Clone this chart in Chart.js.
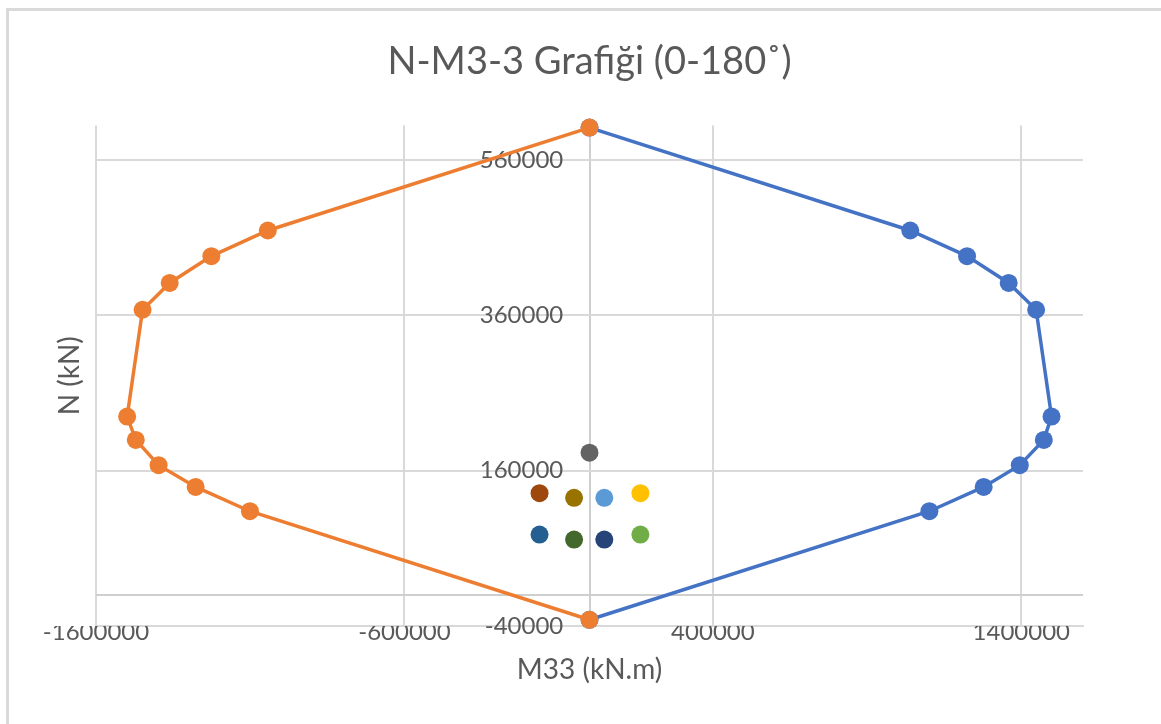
<!DOCTYPE html>
<html>
<head>
<meta charset="utf-8">
<title>N-M3-3 Grafiği</title>
<script src="https://cdn.jsdelivr.net/npm/chart.js@4.4.1/dist/chart.umd.min.js"></script>
<style>
  html, body { margin: 0; padding: 0; background: #ffffff; }
  #wrap { position: relative; width: 1161px; height: 724px; overflow: hidden; }
  #chart { position: absolute; left: 0; top: 0; }
  #frame { position: absolute; left: 6px; top: 8px; width: 1300px; height: 900px;
           border: 3px solid #dadada; box-sizing: border-box; pointer-events: none; }
</style>
</head>
<body>
<div id="wrap">
  <canvas id="chart" width="1161" height="724"></canvas>
  <div id="frame"></div>
</div>
<script>
// Texts
const titleText = 'N-M3-3 Grafiği (0-180˚)';
const xAxisTitle = 'M33 (kN.m)';
const yAxisTitle = 'N (kN)';

// Axis ticks (0 gets an unlabelled line: the crossing axis)
const xTickValues = [-1600000, -600000, 0, 400000, 1400000];
const yTickValues = [-40000, 0, 160000, 360000, 560000];

// Interaction curve, positive moment side (kN.m / kN)
const momentPos = [0, 1040000, 1224000, 1359000, 1448000, 1498000, 1473000, 1395000, 1278000, 1102000, 0];
const axialPos  = [601500, 469000, 436000, 401500, 367000, 229500, 199500, 167000, 139000, 107700, -32000];

// Interaction curve, negative moment side
const momentNeg = [0, -1043000, -1226000, -1361000, -1449000, -1499000, -1471000, -1397000, -1277000, -1101000, 0];
const axialNeg  = [601500, 469000, 436000, 401500, 367000, 229500, 199500, 167000, 139000, 107700, -32000];

// Load combinations
const comboMoment = [0, -162000, -50000, 48000, 165000, -162000, -50000, 48000, 165000];
const comboAxial  = [183000, 131000, 125000, 125000, 131000, 77700, 71200, 71200, 77700];
const comboColors = ['#636363', '#9E480E', '#997300', '#5B9BD5', '#FFC000',
                     '#255E91', '#43682B', '#264478', '#70AD47'];

const toPoints = (xs, ys) => xs.map((x, i) => ({ x: x, y: ys[i] }));

const textColor = '#595959';
const gridColor = '#d9d9d9';
const fontFamily = 'Lato, "Open Sans", sans-serif';

Chart.defaults.font.family = fontFamily;
Chart.defaults.color = textColor;

new Chart(document.getElementById('chart'), {
  type: 'scatter',
  data: {
    datasets: [
      {
        label: 'Kombinasyonlar',
        data: toPoints(comboMoment, comboAxial),
        pointRadius: 9,
        pointBorderWidth: 0,
        pointBackgroundColor: comboColors,
        showLine: false,
        clip: false
      },
      {
        label: 'M33 (-)',
        data: toPoints(momentNeg, axialNeg),
        showLine: true,
        borderColor: '#ED7D31',
        backgroundColor: '#ED7D31',
        borderWidth: 3.5,
        pointRadius: 9,
        pointBorderWidth: 0,
        pointBackgroundColor: '#ED7D31',
        clip: false
      },
      {
        label: 'M33 (+)',
        data: toPoints(momentPos, axialPos),
        showLine: true,
        borderColor: '#4472C4',
        backgroundColor: '#4472C4',
        borderWidth: 3.5,
        pointRadius: 9,
        pointBorderWidth: 0,
        pointBackgroundColor: '#4472C4',
        clip: false
      }
    ]
  },
  options: {
    responsive: false,
    animation: false,
    layout: { padding: { left: 0, right: 78, top: 0, bottom: 0 } },
    plugins: {
      legend: { display: false },
      tooltip: { enabled: false },
      title: {
        display: true,
        fullSize: false,
        text: titleText,
        color: textColor,
        font: { family: fontFamily, size: 38, weight: 'normal' },
        padding: { top: 39, bottom: 41 }
      }
    },
    scales: {
      x: {
        type: 'linear',
        position: 'bottom',
        min: -1600000,
        max: 1600000,
        afterBuildTicks: s => { s.ticks = xTickValues.map(v => ({ value: v })); },
        afterFit: s => { s.height = 98; },
        grid: {
          drawTicks: false,
          lineWidth: 2,
          color: c => (c.tick && c.tick.value === 0) ? '#cfcfcf' : gridColor
        },
        border: { display: true, color: gridColor, width: 2 },
        ticks: {
          autoSkip: false,
          maxRotation: 0,
          minRotation: 0,
          padding: -8,
          color: textColor,
          font: { size: 24 },
          callback: v => v === 0 ? '' : String(v)
        },
        title: {
          display: true,
          text: xAxisTitle,
          color: textColor,
          font: { size: 28 },
          padding: { top: 0, bottom: 37 }
        }
      },
      y: {
        type: 'linear',
        position: { x: -85000 },
        min: -40000,
        max: 604000,
        afterBuildTicks: s => { s.ticks = yTickValues.map(v => ({ value: v })); },
        afterFit: s => { s.width = 0; },
        grid: {
          drawTicks: false,
          lineWidth: 2,
          color: c => (c.tick && c.tick.value === 0) ? '#cfcfcf' : gridColor
        },
        border: { display: false },
        ticks: {
          autoSkip: false,
          padding: 0,
          color: textColor,
          font: { size: 24 },
          callback: v => v === 0 ? '' : String(v)
        }
      },
      yTitle: {
        type: 'linear',
        position: 'left',
        display: true,
        afterFit: s => { s.width = 96; },
        grid: { display: false, drawTicks: false },
        border: { display: false },
        ticks: { display: false },
        title: {
          display: true,
          text: yAxisTitle,
          color: textColor,
          font: { size: 28 },
          align: 'center',
          padding: { top: 53, bottom: 0 }
        }
      }
    }
  }
});
</script>
</body>
</html>
